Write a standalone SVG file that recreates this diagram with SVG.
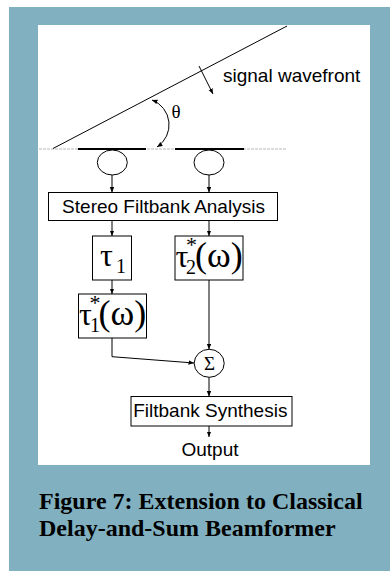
<svg xmlns="http://www.w3.org/2000/svg" width="390" height="571" viewBox="0 0 390 571">
<defs>
<style>
.ln{stroke:#000;stroke-width:1;fill:none}
.box{fill:#fff;stroke:#000;stroke-width:1}
.lbl{font-family:"Liberation Sans",Arial,sans-serif;font-size:19px;fill:#000}
.mth{font-family:"Liberation Serif","Times New Roman",serif;fill:#000}
.tau{font-size:32px}
.sup{font-size:22px}
.sub{font-size:20px}
.par{font-size:36px}
.cap{font-family:"Liberation Serif","Times New Roman",serif;font-weight:bold;font-size:24px;fill:#000}
</style>
<marker id="ah" markerUnits="userSpaceOnUse" markerWidth="6" markerHeight="5" refX="5.5" refY="2.25" orient="auto-start-reverse">
<path d="M0,0 L5.5,2.25 L0,4.5 z" fill="#000"/>
</marker>
</defs>
<rect x="0" y="0" width="390" height="571" fill="#fff"/>
<rect x="9" y="7" width="381" height="564" fill="#81B1C0"/>
<rect x="38" y="25" width="332" height="440" fill="#fff"/>

<g id="wavefront">
<line x1="39" y1="149" x2="286" y2="149" stroke="#b8b8b8" stroke-width="1" stroke-dasharray="3 1"/>
<line class="ln" x1="53" y1="148.5" x2="287" y2="26"/>
<line class="ln" x1="199" y1="66" x2="213" y2="94" marker-end="url(#ah)"/>
<text class="lbl" x="223" y="82">signal wavefront</text>
<path class="ln" d="M152,100 A26.5,26.5 0 0 1 157,147" marker-start="url(#ah)" marker-end="url(#ah)"/>
<text class="mth" x="171.5" y="118" font-size="19">θ</text>
</g>

<g id="mic1">
<line x1="78" y1="149" x2="146" y2="149" stroke="#000" stroke-width="2"/>
<ellipse cx="112.3" cy="162.5" rx="15" ry="12.5" fill="#fff" stroke="#000" stroke-width="1"/>
</g>
<g id="mic2">
<line x1="175" y1="149" x2="244" y2="149" stroke="#000" stroke-width="2"/>
<ellipse cx="209" cy="162.5" rx="15" ry="12.5" fill="#fff" stroke="#000" stroke-width="1"/>
</g>

<g id="analysis">
<rect class="box" x="48.5" y="192.5" width="229" height="28"/>
<text class="lbl" x="163.5" y="213" text-anchor="middle">Stereo Filtbank Analysis</text>
</g>

<g id="tau1">
<rect class="box" x="92.5" y="236" width="39" height="44"/>
<text class="mth"><tspan class="tau" x="100" y="266">τ</tspan><tspan class="sub" x="116" y="273.3">1</tspan></text>
</g>

<g id="tau2star">
<rect class="box" x="175" y="236" width="68" height="44"/>
<text class="mth"><tspan class="tau" x="175.5" y="267.3">τ</tspan><tspan class="sup" x="186" y="252">*</tspan><tspan class="sub" x="186" y="274">2</tspan><tspan class="par" x="195" y="266.5">(ω)</tspan></text>
</g>

<g id="tau1star">
<rect class="box" x="78.5" y="294" width="68" height="44"/>
<text class="mth"><tspan class="tau" x="79" y="325.3">τ</tspan><tspan class="sup" x="89.5" y="310">*</tspan><tspan class="sub" x="90" y="332">1</tspan><tspan class="par" x="98.5" y="324.5">(ω)</tspan></text>
</g>

<g id="sum">
<ellipse cx="209.2" cy="363.3" rx="15" ry="14" fill="#fff" stroke="#000" stroke-width="1"/>
<text class="mth" x="209.5" y="370" font-size="19" text-anchor="middle">Σ</text>
</g>

<g id="synthesis">
<rect class="box" x="131" y="396.5" width="161" height="29.5"/>
<text class="lbl" x="210.3" y="417" text-anchor="middle">Filtbank Synthesis</text>
</g>

<g id="output">
<text class="lbl" x="210" y="456" text-anchor="middle">Output</text>
</g>

<g id="connectors">
<line class="ln" x1="112" y1="175" x2="112" y2="192.5" marker-end="url(#ah)"/>
<line class="ln" x1="209" y1="175" x2="209" y2="192.5" marker-end="url(#ah)"/>
<line class="ln" x1="112" y1="220.5" x2="112" y2="236" marker-end="url(#ah)"/>
<line class="ln" x1="209" y1="220.5" x2="209" y2="236" marker-end="url(#ah)"/>
<line class="ln" x1="112" y1="280" x2="112" y2="294" marker-end="url(#ah)"/>
<polyline class="ln" points="112,338 112,356.7 194,363" marker-end="url(#ah)"/>
<line class="ln" x1="209" y1="280" x2="209" y2="349.3" marker-end="url(#ah)"/>
<line class="ln" x1="209" y1="377.3" x2="209" y2="396.5" marker-end="url(#ah)"/>
<line class="ln" x1="209" y1="426" x2="209" y2="437" marker-end="url(#ah)"/>
</g>

<g id="caption">
<text class="cap" x="39" y="509">Figure 7: Extension to Classical</text>
<text class="cap" x="39" y="536">Delay-and-Sum Beamformer</text>
</g>
</svg>
